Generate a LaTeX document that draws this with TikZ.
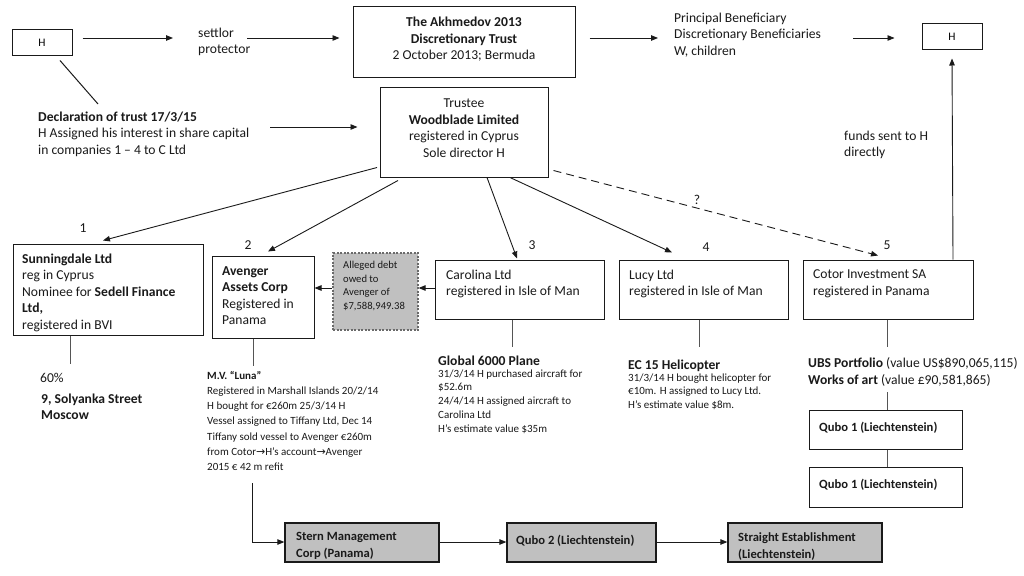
\documentclass[tikz,border=0pt]{standalone}
\usepackage{fontspec}
\setmainfont{Carlito}
\newfontfamily\symf{DejaVu Sans}
\usetikzlibrary{arrows.meta,calc}
\definecolor{boxgray}{HTML}{C0C0C0}
\definecolor{ink}{HTML}{1A1A1A}
\definecolor{stem}{HTML}{555555}
\definecolor{dashgray}{HTML}{6A6A6A}
\newcommand\fmain{\fontsize{13.6}{16.5}\selectfont}
\newcommand\fsmall{\fontsize{11}{13.8}\selectfont}
\newcommand\fluna{\fontsize{11}{15.2}\selectfont}
\newcommand\fdebt{\fontsize{10.6}{13.8}\selectfont}
\newcommand\fbot{\fontsize{12.6}{16.5}\selectfont}
\newcommand\fh{\fontsize{11.5}{13}\selectfont}
\newcommand\rarr{{\symf\char"2192}}
\begin{document}
\begin{tikzpicture}[x=1pt,y=-1pt,
  box/.style={draw=ink,line width=1pt,inner sep=0pt},
  gbox/.style={box,fill=boxgray,line width=1.3pt},
  lbl/.style={inner sep=0pt,anchor=north west,align=left,text=ink,yshift=-2.5pt,execute at begin node=\strut},
  ctr/.style={inner sep=0pt,align=center,text=ink},
  arr/.style={draw=ink,line width=0.9pt,-{Triangle[length=7pt,width=5.5pt]}},
  stemline/.style={draw=stem,line width=1pt},
]
\useasboundingbox (0,0) rectangle (1024,575);
\fill[white] (0,0) rectangle (1024,575);

% top row
\node[box,minimum width=60pt,minimum height=26pt,font=\fh] (h1) at (42,43) {H};
\node[box,minimum width=60pt,minimum height=26pt,font=\fh] (h2) at (952,37) {H};
\node[lbl,font=\fmain] (settlor) at (198,25) {settlor\\protector};
\node[box,minimum width=222pt,minimum height=71pt] (trust) at (464,42.5) {};
\node[ctr,font=\fmain] (trustt) at (464,39.5) {\textbf{The Akhmedov 2013}\\\textbf{Discretionary Trust}\\2 October 2013; Bermuda};
\node[lbl,font=\fmain] (benef) at (674,10) {Principal Beneficiary\\Discretionary Beneficiaries\\W, children};

% trustee
\node[lbl,font=\fmain] (decl) at (38,109) {\textbf{Declaration of trust 17/3/15}\\H Assigned his interest in share capital\\in companies 1 -- 4 to C Ltd};
\node[box,minimum width=168pt,minimum height=89pt] (wood) at (464,132.5) {};
\node[ctr,font=\fmain] (woodt) at (464,128) {Trustee\\\textbf{Woodblade Limited}\\registered in Cyprus\\Sole director H};
\node[lbl,font=\fmain] (funds) at (844,128) {funds sent to H\\directly};

% numbers
\node[ctr,font=\fmain] (n1) at (83,228) {1};
\node[ctr,font=\fmain] (n2) at (248,245) {2};
\node[ctr,font=\fmain] (n3) at (532,245) {3};
\node[ctr,font=\fmain] (n4) at (706,247) {4};
\node[ctr,font=\fmain] (n5) at (887,245) {5};
\node[ctr,font=\fmain] (q) at (697,200) {?};

% companies
\node[box,minimum width=190pt,minimum height=91pt] (sunn) at (108,289.5) {};
\node[lbl,font=\fmain] (sunnt) at (22,251) {\textbf{Sunningdale Ltd}\\reg in Cyprus\\Nominee for \textbf{Sedell Finance}\\\textbf{Ltd,}\\registered in BVI};
\node[box,minimum width=102pt,minimum height=82pt] (aveng) at (263,297) {};
\node[lbl,font=\fmain] (avengt) at (222,263.5) {\textbf{Avenger}\\\textbf{Assets Corp}\\Registered in\\Panama};
\node[box,fill=boxgray,draw=dashgray,line width=1.2pt,dash pattern=on 2pt off 1.5pt,minimum width=85pt,minimum height=77pt] (debt) at (375.5,291.5) {};
\node[lbl,font=\fdebt] (debtt) at (343,258.3) {Alleged debt\\owed to\\Avenger of\\\$7,588,949.38};
\node[box,minimum width=169pt,minimum height=59pt] (carol) at (519.5,289.5) {};
\node[lbl,font=\fmain] (carolt) at (446,267) {Carolina Ltd\\registered in Isle of Man};
\node[box,minimum width=169pt,minimum height=59pt] (lucy) at (703.5,289.5) {};
\node[lbl,font=\fmain] (lucyt) at (629,267) {Lucy Ltd\\registered in Isle of Man};
\node[box,minimum width=170pt,minimum height=59pt] (cotor) at (888,289.5) {};
\node[lbl,font=\fmain] (cotort) at (813,267) {Cotor Investment SA\\registered in Panama};

% assets
\node[lbl,font=\fmain] (pct) at (40,368) {60\%};
\node[lbl,font=\fmain] (mosc) at (41,391) {\textbf{9, Solyanka Street}\\\textbf{Moscow}};
\node[lbl,font=\fluna] (luna) at (207,368.4) {\textbf{M.V. “Luna”}\\Registered in Marshall Islands 20/2/14\\H bought for €260m 25/3/14 H\\Vessel assigned to Tiffany Ltd, Dec 14\\Tiffany sold vessel to Avenger €260m\\from Cotor\rarr H's account\rarr Avenger\\2015 € 42 m refit};
\node[lbl,font=\fmain] (glob) at (438,351) {\textbf{Global 6000 Plane}};
\node[lbl,font=\fsmall] (globt) at (438,366.8) {31/3/14 H purchased aircraft for\\\$52.6m\\24/4/14 H assigned aircraft to\\Carolina Ltd\\H's estimate value \$35m};
\node[lbl,font=\fmain] (heli) at (628,355) {\textbf{EC 15 Helicopter}};
\node[lbl,font=\fsmall] (helit) at (628,370.8) {31/3/14 H bought helicopter for\\€10m. H assigned to Lucy Ltd.\\H's estimate value \$8m.};
\node[lbl,font=\fmain] (ubs) at (808,355) {\textbf{UBS Portfolio} (value US\$890,065,115)\\\textbf{Works of art} (value £90,581,865)};
\node[box,minimum width=153pt,minimum height=39pt] (qa) at (885.5,429.5) {};
\node[lbl,font=\fbot] (qat) at (819,417) {\textbf{Qubo 1 (Liechtenstein)}};
\node[box,minimum width=153pt,minimum height=40pt] (qb) at (885.5,487) {};
\node[lbl,font=\fbot] (qbt) at (819,474) {\textbf{Qubo 1 (Liechtenstein)}};

% bottom row
\node[gbox,minimum width=154pt,minimum height=39pt] (stern) at (362,542.5) {};
\node[lbl,font=\fbot] (sternt) at (296,530) {\textbf{Stern Management}\\\textbf{Corp (Panama)}};
\node[gbox,minimum width=149pt,minimum height=39pt] (qubo2) at (581.5,542.5) {};
\node[lbl,font=\fbot] (qubo2t) at (516,530) {\textbf{Qubo 2 (Liechtenstein)}};
\node[gbox,minimum width=154pt,minimum height=39pt] (strai) at (805,542.5) {};
\node[lbl,font=\fbot] (strait) at (738,530) {\textbf{Straight Establishment}\\\textbf{(Liechtenstein)}};

% connectors
\draw[arr] ([xshift=10pt,yshift=5pt]h1.east) -- ([xshift=-25pt]settlor.west |- 0,38);
\draw[arr] ([xshift=49pt]settlor.west |- 0,38) -- ([xshift=-13pt]trust.west |- 0,38);
\draw[arr] ([xshift=14pt]trust.east |- 0,38) -- ([xshift=-16pt]benef.west |- 0,38);
\draw[arr] (853,38) -- ([xshift=-27pt]h2.west |- 0,38);
\draw[arr] (cotor.north -| 953,0) -- ([yshift=-8pt]h2.south);
\draw[stemline,draw=ink] ([yshift=-4pt]h1.south -| 60,0) -- (98,104);
\draw[arr] (270,127) -- ([xshift=-22pt]wood.west |- 0,127);
\draw[arr] ([yshift=10pt]wood.south -| 377,0) -- ([yshift=3pt]sunn.north -| 103,0);
\draw[arr] ([yshift=-3pt]wood.south -| 398,0) -- ([yshift=4pt]aveng.north -| 268,0);
\draw[arr] (wood.south -| 487,0) -- ([yshift=1pt]carol.north -| 517,0);
\draw[arr] (wood.south -| 510,0) -- ([yshift=7pt]lucy.north -| 672,0);
\draw[arr,dash pattern=on 8pt off 5pt] ([xshift=5pt,yshift=7pt]wood.south east) -- ([yshift=4pt]cotor.north -| 878,0);
\draw[arr] (debt.west |- 0,288) -- (aveng.east |- 0,288);
\draw[arr] (carol.west |- 0,288) -- (debt.east |- 0,288);
\draw[stemline] (sunn.south -| 70,0) -- (70,364);
\draw[stemline] (aveng.south -| 253,0) -- (253,366);
\draw[stemline] (carol.south -| 512,0) -- (512,347);
\draw[stemline] (lucy.south -| 699,0) -- (699,347);
\draw[stemline] (cotor.south -| 887,0) -- (887,347);
\draw[stemline] (887,392) -- (qa.north -| 887,0);
\draw[stemline] (qa.south -| 887,0) -- (qb.north -| 887,0);
\draw[arr] (252,483) -- (252,542) -- (stern.west |- 0,542);
\draw[arr] (stern.east |- 0,542) -- (qubo2.west |- 0,542);
\draw[arr] (qubo2.east |- 0,542) -- (strai.west |- 0,542);
\end{tikzpicture}
\end{document}
